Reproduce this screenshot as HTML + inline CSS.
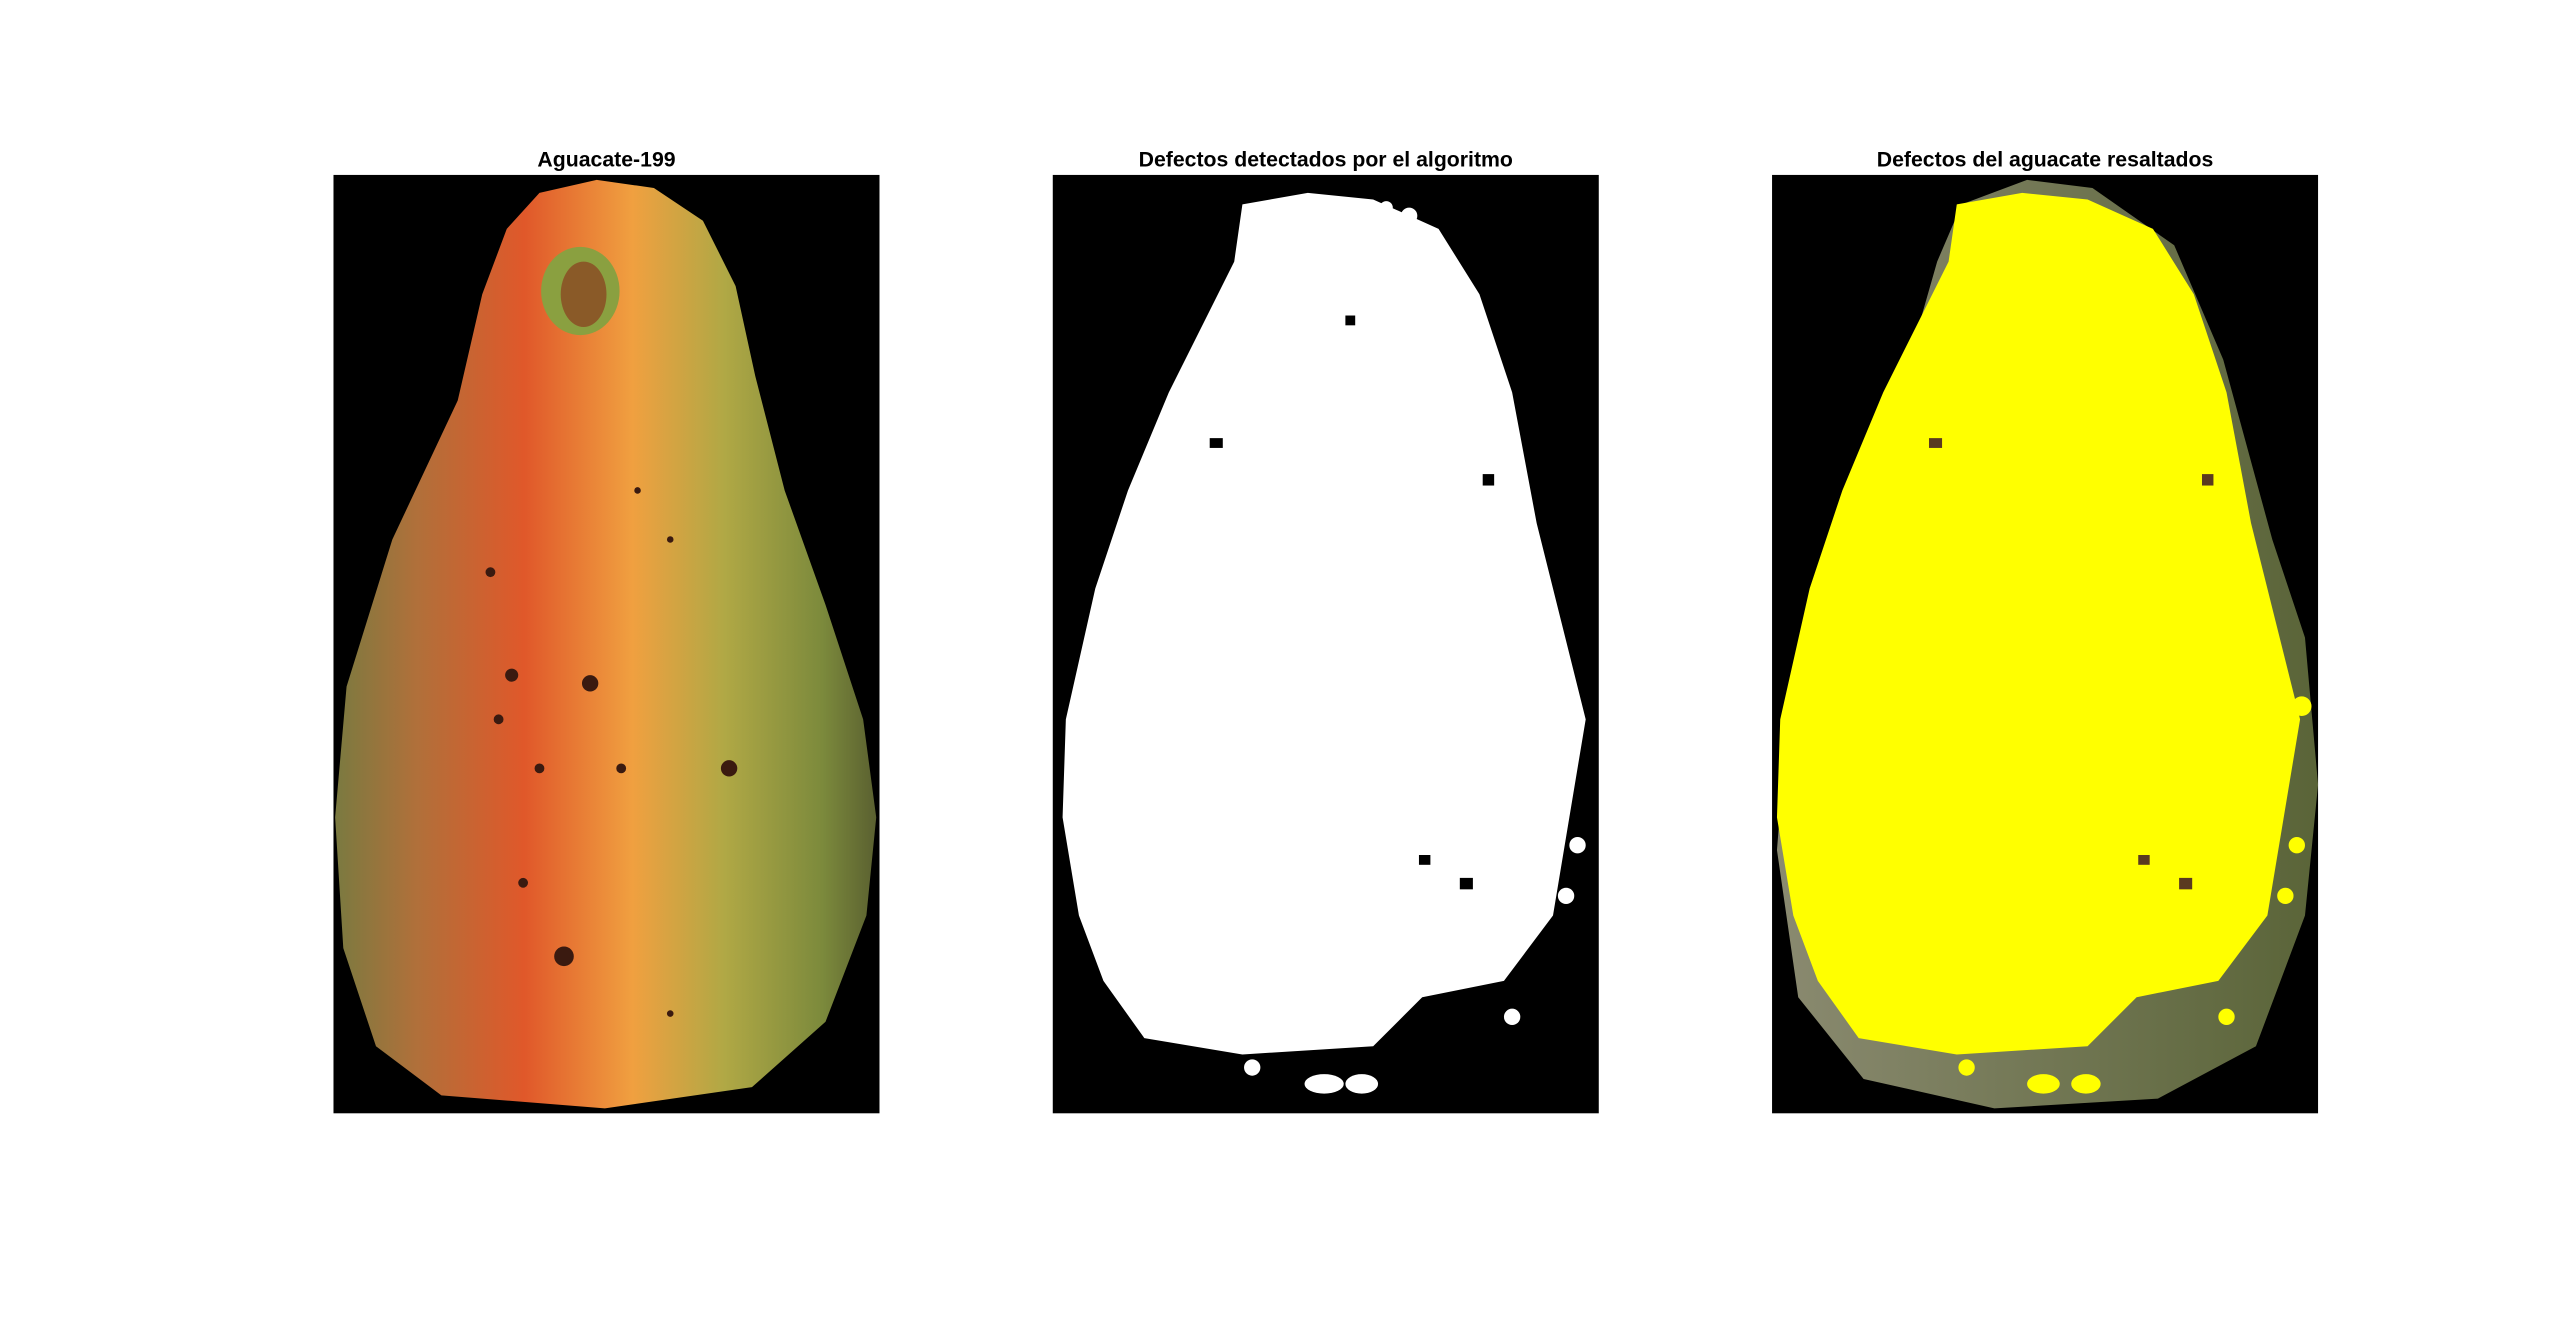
<!DOCTYPE html>
<html><head><meta charset="utf-8"><style>
html,body{margin:0;padding:0;background:#fff;width:2560px;height:1334px;overflow:hidden}
svg{display:block}
text{font-family:"Liberation Sans",sans-serif;font-weight:bold;font-size:13px;fill:#000}
</style></head><body>
<svg width="2560" height="1334" viewBox="0 0 1566 816" preserveAspectRatio="none">
<defs>
<linearGradient id="g1" x1="0" y1="0" x2="1" y2="0">
<stop offset="0" stop-color="#7a7a40"/>
<stop offset="0.15" stop-color="#b0703a"/>
<stop offset="0.35" stop-color="#e0582a"/>
<stop offset="0.55" stop-color="#f0a040"/>
<stop offset="0.72" stop-color="#b0a845"/>
<stop offset="0.9" stop-color="#7c8a3c"/>
<stop offset="1" stop-color="#5a6030"/>
</linearGradient>
<linearGradient id="g3" x1="0" y1="0" x2="1" y2="0">
<stop offset="0" stop-color="#8a8a70"/>
<stop offset="1" stop-color="#5a6438"/>
</linearGradient>
</defs>
<text x="371" y="102" text-anchor="middle">Aguacate-199</text>
<text x="811" y="102" text-anchor="middle">Defectos detectados por el algoritmo</text>
<text x="1251" y="102" text-anchor="middle">Defectos del aguacate resaltados</text>

<g>
<rect x="204" y="107" width="334" height="574" fill="#000"/>
<path d="M330,118 L365,110 L400,115 L430,135 L450,175 L462,230 L480,300 L505,370 L528,440 L536,500 L530,560 L505,625 L460,665 L370,678 L270,670 L230,640 L210,580 L205,500 L212,420 L240,330 L280,245 L295,180 L310,140 Z" fill="url(#g1)"/>
<ellipse cx="355" cy="178" rx="24" ry="27" fill="#8aa040"/>
<ellipse cx="357" cy="180" rx="14" ry="20" fill="#8a5a28"/>
<g fill="#3a1a10">
<circle cx="313" cy="413" r="4"/><circle cx="361" cy="418" r="5"/><circle cx="345" cy="585" r="6"/><circle cx="446" cy="470" r="5"/><circle cx="305" cy="440" r="3"/><circle cx="320" cy="540" r="3"/><circle cx="390" cy="300" r="2"/><circle cx="410" cy="330" r="2"/><circle cx="300" cy="350" r="3"/><circle cx="380" cy="470" r="3"/><circle cx="330" cy="470" r="3"/><circle cx="410" cy="620" r="2"/>
</g>
</g>

<g>
<rect x="644" y="107" width="334" height="574" fill="#000"/>
<path id="blob" d="M760,125 L800,118 L840,122 L880,140 L905,180 L925,240 L940,320 L955,380 L970,440 L960,500 L950,560 L920,600 L870,610 L840,640 L760,645 L700,635 L675,600 L660,560 L650,500 L652,440 L670,360 L690,300 L715,240 L735,200 L755,160 Z" fill="#fff"/>
<g fill="#fff"><circle cx="848" cy="127" r="4"/><circle cx="862" cy="132" r="5"/><circle cx="925" cy="622" r="5"/><circle cx="766" cy="653" r="5"/><ellipse cx="810" cy="663" rx="12" ry="6"/><ellipse cx="833" cy="663" rx="10" ry="6"/><circle cx="965" cy="517" r="5"/><circle cx="958" cy="548" r="5"/></g>
<g fill="#000"><rect x="740" y="268" width="8" height="6"/><rect x="907" y="290" width="7" height="7"/><rect x="868" y="523" width="7" height="6"/><rect x="893" y="537" width="8" height="7"/><rect x="823" y="193" width="6" height="6"/></g>
</g>

<g>
<rect x="1084" y="107" width="334" height="574" fill="#000"/>
<path d="M1200,125 L1240,110 L1280,115 L1330,150 L1360,220 L1390,330 L1410,390 L1418,480 L1410,560 L1380,640 L1320,672 L1220,678 L1140,660 L1100,610 L1087,520 L1095,420 L1130,320 L1165,230 L1185,160 Z" fill="url(#g3)"/>
<path d="M1197,125 L1237,118 L1277,122 L1317,140 L1342,180 L1362,240 L1377,320 L1392,380 L1407,440 L1397,500 L1387,560 L1357,600 L1307,610 L1277,640 L1197,645 L1137,635 L1112,600 L1097,560 L1087,500 L1089,440 L1107,360 L1127,300 L1152,240 L1172,200 L1192,160 Z" fill="#ffff00"/>
<g fill="#ffff00"><circle cx="1362" cy="622" r="5"/><circle cx="1203" cy="653" r="5"/><ellipse cx="1250" cy="663" rx="10" ry="6"/><ellipse cx="1276" cy="663" rx="9" ry="6"/><circle cx="1405" cy="517" r="5"/><circle cx="1398" cy="548" r="5"/><circle cx="1408" cy="432" r="6"/></g>
<g fill="#5a3a20"><rect x="1180" y="268" width="8" height="6"/><rect x="1347" y="290" width="7" height="7"/><rect x="1308" y="523" width="7" height="6"/><rect x="1333" y="537" width="8" height="7"/></g>
</g>
</svg>
</body></html>
